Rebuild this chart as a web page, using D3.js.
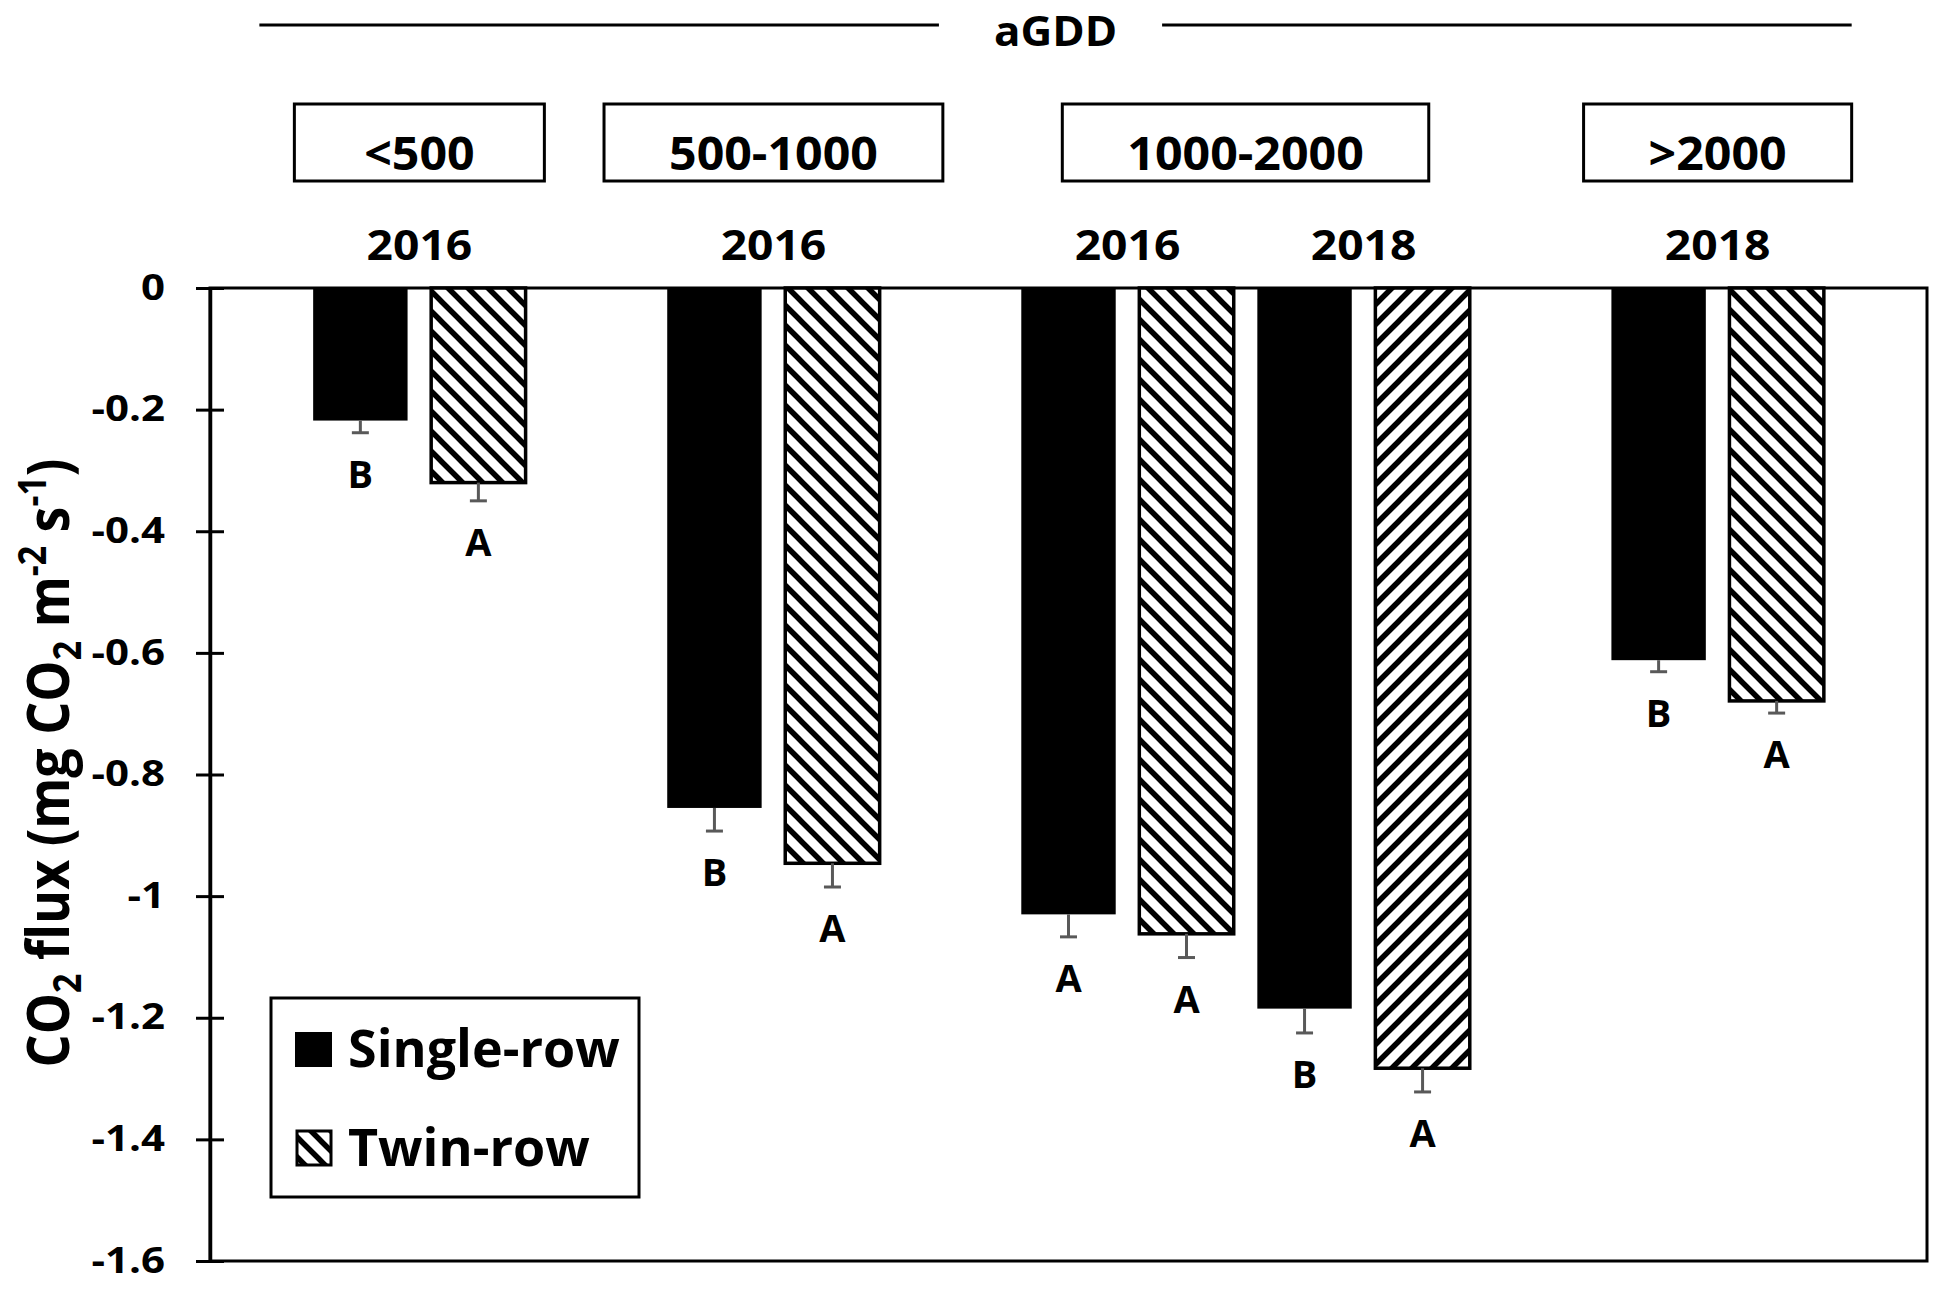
<!DOCTYPE html>
<html>
<head>
<meta charset="utf-8">
<script src="https://cdn.jsdelivr.net/npm/d3@7"></script>
<style>
  body { margin: 0; background: #fff; }
  svg { display: block; }
  text { font-family: "Open Sans", "Noto Sans", sans-serif; font-weight: 700; fill: #000; }
</style>
</head>
<body>
<svg width="1939" height="1289"></svg>
<script>
/* --------------- Datos --------------- */
const groups = ["<500", "500-1000", "1000-2000", "1000-2000", ">2000"];   // aGDD class of each pair
const years = ["2016", "2016", "2016", "2018", "2018"];
const seriesNames = ["Single-row", "Twin-row"];
const singleRow = [-0.218, -0.855, -1.030, -1.185, -0.612];
const singleSE = [0.020, 0.038, 0.037, 0.040, 0.019];
const twinRow = [-0.320, -0.946, -1.062, -1.283, -0.679];
const twinSE = [0.030, 0.039, 0.039, 0.039, 0.020];
const singleLetters = ["B", "B", "A", "B", "B"];
const twinLetters = ["A", "A", "A", "A", "A"];
const yTicks = [0, -0.2, -0.4, -0.6, -0.8, -1, -1.2, -1.4, -1.6];
const headerTitle = "aGDD";

// the 2018 twin-row bar of 1000-2000 is hatched the other way in the original
const twinHatch = ["down", "down", "down", "up", "down"];

/* --------------- Grafica --------------- */
const svg = d3.select("svg");
const plot = { left: 210, right: 1927, top: 288, bottom: 1261 };

// pairs of the same aGDD class sit closer together
const pos = [];
groups.forEach((g, i) => pos.push(i === 0 ? 0 : pos[i - 1] + (g === groups[i - 1] ? 1 : 1.5)));

const x = d3.scaleLinear().domain([-0.887, pos[pos.length - 1] + 0.887]).range([plot.left, plot.right]);
const y = d3.scaleLinear().domain([-1.6, 0]).range([plot.bottom, plot.top]);

const rows = groups.map((g, i) => ({
    g, year: years[i], p: pos[i],
    s: singleRow[i], sSE: singleSE[i], sL: singleLetters[i],
    t: twinRow[i], tSE: twinSE[i], tL: twinLetters[i], hatch: twinHatch[i]
}));

const defs = svg.append("defs");
function hatch(id, dir) {
    const p = defs.append("pattern").attr("id", id)
        .attr("patternUnits", "userSpaceOnUse")
        .attr("width", 20).attr("height", 20);
    p.append("rect").attr("width", 20).attr("height", 20).attr("fill", "#fff");
    const d = dir === "down"
        ? "M-5,-5L25,25M-5,15L5,25M15,-5L25,5"
        : "M-5,25L25,-5M-5,5L5,-5M15,25L25,15";
    p.append("path").attr("d", d).attr("stroke", "#000").attr("stroke-width", 5.5);
}
hatch("hatch-down", "down");
hatch("hatch-up", "up");

// text helper, sx stretches the glyphs sideways like the source picture
function label(g, px, py, str, size, sx, anchor) {
    return g.append("text")
        .attr("transform", `translate(${px},${py}) scale(${sx},1)`)
        .attr("text-anchor", anchor || "middle")
        .style("font-size", size + "px")
        .text(str);
}

svg.append("rect")
    .attr("x", plot.left).attr("y", plot.top)
    .attr("width", plot.right - plot.left).attr("height", plot.bottom - plot.top)
    .attr("fill", "none").attr("stroke", "#000").attr("stroke-width", 3);

// barras
const bars = svg.append("g");
bars.selectAll(".single").data(rows).enter().append("rect")
    .attr("class", "single")
    .attr("x", d => x(d.p - 0.45))
    .attr("width", d => x(d.p - 0.05) - x(d.p - 0.45))
    .attr("y", y(0))
    .attr("height", d => y(d.s) - y(0))
    .attr("fill", "#000");

bars.selectAll(".twin").data(rows).enter().append("rect")
    .attr("class", "twin")
    .attr("x", d => x(d.p + 0.05))
    .attr("width", d => x(d.p + 0.45) - x(d.p + 0.05))
    .attr("y", y(0))
    .attr("height", d => y(d.t) - y(0))
    .attr("fill", d => `url(#hatch-${d.hatch})`)
    .attr("stroke", "#000").attr("stroke-width", 3.5);

// error bars + letters
const errs = [];
rows.forEach(d => {
    errs.push({ cx: x(d.p - 0.25), v: d.s, se: d.sSE, l: d.sL });
    errs.push({ cx: x(d.p + 0.25), v: d.t, se: d.tSE, l: d.tL });
});
const eg = svg.append("g").attr("stroke", "#595959").attr("stroke-width", 3);
eg.selectAll(".stem").data(errs).enter().append("line")
    .attr("class", "stem")
    .attr("x1", d => d.cx).attr("x2", d => d.cx)
    .attr("y1", d => y(d.v)).attr("y2", d => y(d.v - d.se));
eg.selectAll(".cap").data(errs).enter().append("line")
    .attr("class", "cap")
    .attr("x1", d => d.cx - 8.5).attr("x2", d => d.cx + 8.5)
    .attr("y1", d => y(d.v - d.se)).attr("y2", d => y(d.v - d.se));
errs.forEach(d => label(svg, d.cx, y(d.v - d.se) + 55, d.l, 38, 1.0));

// eje y
const axis = d3.axisLeft(y).tickValues(yTicks).tickSize(14).tickSizeOuter(0)
    .tickFormat(d => String(+d.toFixed(1)));
const ga = svg.append("g").attr("transform", `translate(${plot.left},0)`).call(axis);
ga.select(".domain").attr("stroke", "#000").attr("stroke-width", 3.5);
ga.selectAll(".tick line").attr("x1", 14).attr("stroke", "#000").attr("stroke-width", 3);
ga.selectAll(".tick text")
    .attr("x", null)
    .attr("transform", "translate(-45,0) scale(1.2,1)")
    .attr("fill", "#000")
    .style("font-size", "35px");

// titulo eje y
const title = svg.append("text")
    .attr("transform", `translate(69,763) scale(1.15,1) rotate(-90)`)
    .attr("text-anchor", "middle")
    .style("font-size", "52px");
const pieces = [["CO"], ["2", 1], [" flux (mg CO"], ["2", 1], [" m"], ["-2", -1], [" s"], ["-1", -1], [")"]];
let shift = 0;
pieces.forEach(([t, k]) => {
    const want = k === 1 ? 10 : k === -1 ? -20 : 0;
    title.append("tspan")
        .attr("dy", want - shift)
        .style("font-size", k ? "34px" : "52px")
        .text(t);
    shift = want;
});

// encabezado: años
rows.forEach(d => label(svg, x(d.p), 260, d.year, 42, 1.1));

// cajas de clase aGDD
const classes = d3.groups(rows, d => d.g);
const boxes = [];
classes.forEach(([g, rs]) => {
    const cx = d3.mean(rs, r => x(r.p));
    const t = label(svg, cx, 170, g, 46, 1.05);
    const w = Math.max(250, t.node().getComputedTextLength() * 1.05 + 130);
    svg.insert("rect", "text")
        .attr("x", cx - w / 2).attr("y", 104)
        .attr("width", w).attr("height", 77)
        .attr("fill", "#fff").attr("stroke", "#000").attr("stroke-width", 3);
    boxes.push([cx - w / 2, cx + w / 2]);
});

// linea aGDD
const spanL = boxes[0][0] - 35, spanR = boxes[boxes.length - 1][1];
const mid = (spanL + spanR) / 2;
const ht = label(svg, mid, 46, headerTitle, 41, 1.07);
const hw = ht.node().getComputedTextLength() * 1.07;
svg.append("g").attr("stroke", "#000").attr("stroke-width", 3)
    .selectAll("line").data([[spanL, mid - hw / 2 - 55], [mid + hw / 2 + 45, spanR]])
    .enter().append("line")
    .attr("x1", d => d[0]).attr("x2", d => d[1])
    .attr("y1", 25).attr("y2", 25);

// leyenda
const lg = svg.append("g");
lg.append("rect").attr("x", 271).attr("y", 998).attr("width", 368).attr("height", 199)
    .attr("fill", "#fff").attr("stroke", "#000").attr("stroke-width", 3);
lg.append("rect").attr("x", 295).attr("y", 1032).attr("width", 37).attr("height", 35).attr("fill", "#000");
lg.append("rect").attr("x", 297).attr("y", 1131).attr("width", 34).attr("height", 34)
    .attr("fill", "url(#hatch-down)").attr("stroke", "#000").attr("stroke-width", 3);
label(lg, 348, 1067, seriesNames[0], 52, 1.0, "start");
label(lg, 348, 1166, seriesNames[1], 52, 1.0, "start");
</script>
</body>
</html>
